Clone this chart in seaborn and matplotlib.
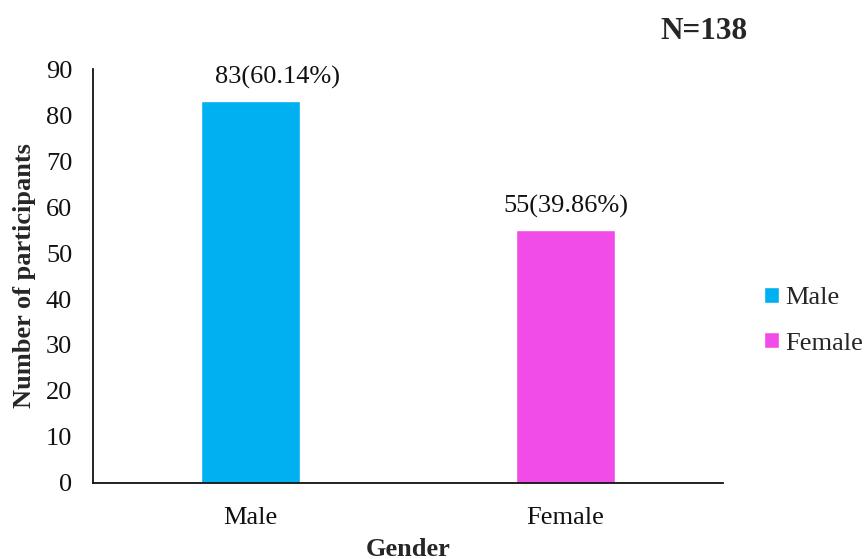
import matplotlib
matplotlib.use("Agg")
import matplotlib.pyplot as plt
import seaborn as sns
import pandas as pd
from matplotlib.patches import Patch

genders = ["Male", "Female"]
counts = [83, 55]
percents = [60.14, 39.86]
colors = ["#00B0F0", "#F24CE8"]
y_ticks = [0, 10, 20, 30, 40, 50, 60, 70, 80, 90]

# horizontal nudge of each value label, in category units
label_dx = [0.087, 0.0]

sns.set_theme(style="white")
plt.rcParams["font.family"] = ["Liberation Serif", "DejaVu Serif"]

df = pd.DataFrame({"Gender": genders, "Count": counts})

fig = plt.figure(figsize=(8.64, 5.59), dpi=100)
ax = fig.add_axes([0.1076, 0.136, 0.7292, 0.7405])

sns.barplot(data=df, x="Gender", y="Count", hue="Gender", palette=colors,
            width=0.314, dodge=False, legend=False, ax=ax, saturation=1)

for i, (c, p) in enumerate(zip(counts, percents)):
    ax.text(i + label_dx[i], c + 2.6, f"{c}({p:.2f}%)", ha="center", va="bottom",
            fontsize=19, color="#111111")

ax.set_xlim(-0.5, 1.5)
ax.set_ylim(0, 90)
ax.set_yticks(y_ticks)
ax.tick_params(axis="both", length=0, labelsize=19, colors="#111111")
ax.tick_params(axis="y", pad=15)
ax.tick_params(axis="x", pad=17.5)
for s in ["top", "right"]:
    ax.spines[s].set_visible(False)
for s in ["left", "bottom"]:
    ax.spines[s].set_color("#111111")
    ax.spines[s].set_linewidth(1.3)

ax.set_xlabel("Gender", fontsize=19, fontweight="bold", labelpad=6)
ax.set_ylabel("Number of participants", fontsize=19, fontweight="bold", labelpad=7)

fig.text(0.865, 0.943, "N=138", ha="right", va="center",
         fontsize=22.5, fontweight="bold")

handles = [Patch(facecolor=c, label=g) for g, c in zip(genders, colors)]
fig.legend(handles=handles, loc="center left", bbox_to_anchor=(0.8845, 0.426),
           frameon=False, fontsize=19, handlelength=0.55, handleheight=0.55,
           handletextpad=0.25, labelspacing=0.88, borderaxespad=0, borderpad=0)

fig.savefig("out.png", dpi=100)
